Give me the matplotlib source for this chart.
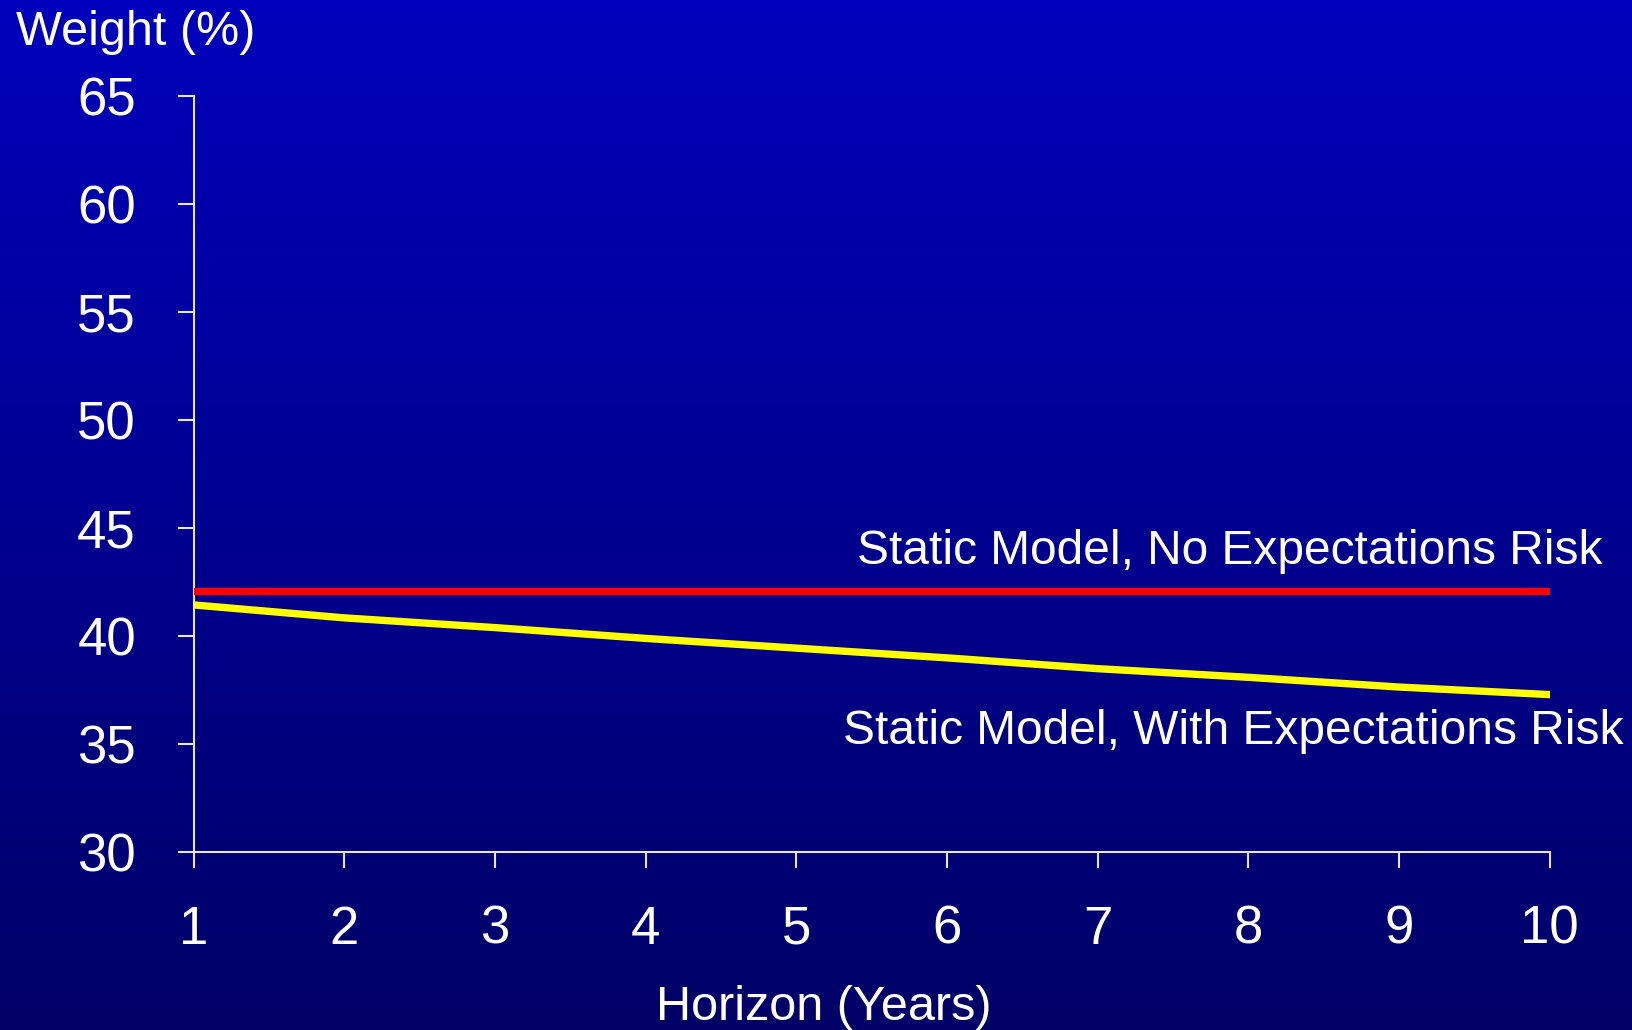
import numpy as np
import matplotlib
matplotlib.use("Agg")
import matplotlib.pyplot as plt
from matplotlib.colors import LinearSegmentedColormap

# Horizon in years and portfolio weights (%)
horizon = [1, 2, 3, 4, 5, 6, 7, 8, 9, 10]
no_exp_risk = [42.1, 42.1, 42.1, 42.1, 42.1, 42.1, 42.1, 42.1, 42.1, 42.1]
with_exp_risk = [41.45, 40.85, 40.4, 39.9, 39.45, 39.0, 38.5, 38.1, 37.65, 37.3]

x_ticks = [1, 2, 3, 4, 5, 6, 7, 8, 9, 10]
y_ticks = [30, 35, 40, 45, 50, 55, 60, 65]

FONT = ["Liberation Sans", "DejaVu Sans"]
plt.rcParams["font.family"] = FONT

fig = plt.figure(figsize=(16.32, 10.30), dpi=100)

# Vertical blue gradient background
bg = fig.add_axes([0, 0, 1, 1], zorder=0)
grad = np.linspace(0, 1, 256).reshape(-1, 1)
cmap = LinearSegmentedColormap.from_list("slide", ["#0000BC", "#000066"])
bg.imshow(grad, aspect="auto", cmap=cmap, extent=[0, 1, 0, 1], origin="upper")
bg.set_axis_off()

ax = fig.add_axes([0.1186, 0.1724, 0.8310, 0.7346], zorder=1)
ax.patch.set_alpha(0)

ax.plot(horizon, no_exp_risk, color="#FF0000", lw=5.3, solid_capstyle="round", zorder=3)
ax.plot(horizon, with_exp_risk, color="#FFFF00", lw=5.3, solid_capstyle="round", zorder=3)

ax.set_xlim(1, 10)
ax.set_ylim(30, 65)
ax.set_xticks(x_ticks)
ax.set_yticks(y_ticks)
ax.set_xticklabels([str(v) for v in x_ticks])
ax.set_yticklabels([str(v) for v in y_ticks])

for side in ("top", "right"):
    ax.spines[side].set_visible(False)
for side in ("left", "bottom"):
    ax.spines[side].set_color("#E6E6F0")
    ax.spines[side].set_linewidth(1.5)
    ax.spines[side].set_zorder(2)

ax.tick_params(axis="both", direction="out", length=11.5, width=1.5,
               color="#E6E6F0", labelcolor="white", labelsize=38)
ax.tick_params(axis="y", pad=30)
ax.tick_params(axis="x", pad=26)
for lab in ax.get_xticklabels() + ax.get_yticklabels():
    lab.set_family(FONT)

fig.text(824 / 1632, 1 - 1008 / 1030, "Horizon (Years)", ha="center",
         va="center", color="white", fontsize=35, family=FONT)
fig.text(0.010, 0.968, "Weight (%)", ha="left", va="center", color="white",
         fontsize=35, family=FONT)

ax.text(10.35, 43.9, "Static Model, No Expectations Risk", ha="right",
        va="center", color="white", fontsize=34.5, family=FONT)
ax.text(10.49, 35.6, "Static Model, With Expectations Risk", ha="right",
        va="center", color="white", fontsize=34.5, family=FONT)

fig.savefig("out.png", dpi=100, facecolor=fig.get_facecolor())
